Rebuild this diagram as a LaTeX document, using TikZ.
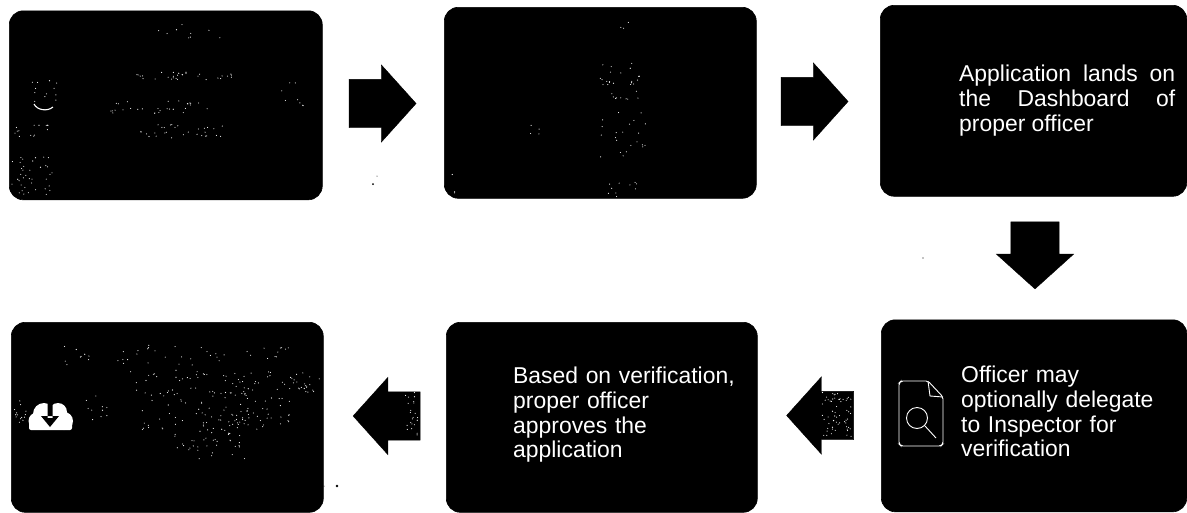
\documentclass[tikz,border=0pt]{standalone}
\usepackage{fontspec}
\setmainfont{Liberation Sans}
\usetikzlibrary{shapes.arrows}
\tikzset{
  card/.style={draw=black, fill=black, line width=0.6pt, rounded corners=14pt, anchor=north west, inner sep=0pt},
  blockarrow/.style={single arrow, draw=black, fill=black, inner sep=0pt, line width=0.4pt, text height=24pt, text depth=24pt, text width=0pt,
    minimum height=67pt, minimum width=77pt, single arrow head extend=14.5pt, single arrow tip angle=96},
  cardtext/.style={text=white, anchor=north west, inner sep=0pt, font=\fontsize{22.9}{24.7}\selectfont},
  iconline/.style={draw=white, line width=0.9pt},
  speck/.style={fill=white}
}

\begin{document}
\begin{tikzpicture}[x=1pt,y=-1pt]
  \useasboundingbox (0,0) rectangle (1187,512);

  % Six cards, top row then bottom row.
  \node[card, minimum width=313pt, minimum height=189pt] (applycard) at (9,10.5) {};
  \node[card, minimum width=312pt, minimum height=191pt] (paycard) at (444,7) {};
  \node[card, minimum width=306.5pt, minimum height=191pt] (dashcard) at (880,5) {};
  \node[card, minimum width=305.5pt, minimum height=192pt] (delegatecard) at (881,319.5) {};
  \node[card, minimum width=311pt, minimum height=190pt] (approvecard) at (446,322) {};
  \node[card, minimum width=312pt, minimum height=190pt] (downloadcard) at (11,322) {};

  % Block arrows between the cards.
  \node[blockarrow] (applyarrow) at (371.7,103.5) {};
  \node[blockarrow] (payarrow) at (803.7,101.5) {};
  \node[blockarrow, rotate=-90] (dasharrow) at (1035,244.5) {};
  \node[blockarrow, rotate=180] (delegatearrow) at (831,415.5) {};
  \node[blockarrow, rotate=180] (approvearrow) at (397.5,416) {};

  % Card texts.
  \node[cardtext, text width=216pt, align=justify] (dashtext) at (959,65) {Application lands on the Dashboard of proper officer};
  \node[cardtext, text width=230pt, align=left] (approvetext) at (513,367) {Based on verification,\\proper officer\\approves the\\application};
  \node[cardtext, text width=200pt, align=left] (delegatetext) at (961,366) {Officer may\\optionally delegate\\to Inspector for\\verification};

  % Document and magnifier icon.
  \draw[iconline, rounded corners=2pt] (928,381) -- (901,381) -- (899,383) -- (899,444) -- (901,446) -- (941,446) -- (943,444) -- (943,397) -- cycle;
  \draw[iconline] (928,381) -- (930,396) -- (943,397);
  \draw[iconline] (917,418) circle (10.5pt);
  \draw[iconline] (925,426) -- (936,438);

  % Cloud download icon.
  \fill[white] (37,421) circle (8.5pt);
  \fill[white] (64,421) circle (9pt);
  \fill[white] (44,414) circle (11pt);
  \fill[white] (58,412) circle (9pt);
  \fill[white, rounded corners=2pt] (29,420) rectangle (72,430);
  \fill[black] (47.5,402) rectangle (52.5,418) (41,416) -- (59,416) -- (50,427) -- cycle;

  % Smile arc in the first card.
  \draw[iconline, line width=1.1pt] (34,104) .. controls (37,110) and (47,112) .. (53,107);

  % Leftover specks of the washed-out scan.
  \pgfmathsetseed{41}
  \foreach \xa/\ya/\w/\h/\n in {
      135/72/100/8/30, 110/100/105/14/30, 140/124/85/14/30, 12/155/40/40/38, 14/125/35/12/14,
      28/78/30/24/12, 275/80/30/30/8, 150/22/70/18/9,
      600/60/40/25/16, 610/80/30/20/14, 600/112/50/45/22, 528/118/15/18/4, 608/182/30/16/10, 452/170/3/24/3, 620/10/10/30/3,
      55/345/250/20/45, 130/370/190/26/90, 140/395/150/35/90, 170/430/70/20/32, 14/400/12/25/14, 78/395/30/25/10, 180/450/70/10/6,
      822/392/31/46/60,
      405/392/14/46/22
  }{
    \foreach \i in {1,...,\n}{
      \fill[speck] (\xa+rnd*\w,\ya+rnd*\h) circle (0.55pt);
    }
  }
  \fill[black] (373,184) circle (1pt) (377,176) circle (0.5pt) (337,486) circle (1.3pt) (324,486) circle (0.5pt) (923,258) circle (0.6pt);
\end{tikzpicture}
\end{document}
